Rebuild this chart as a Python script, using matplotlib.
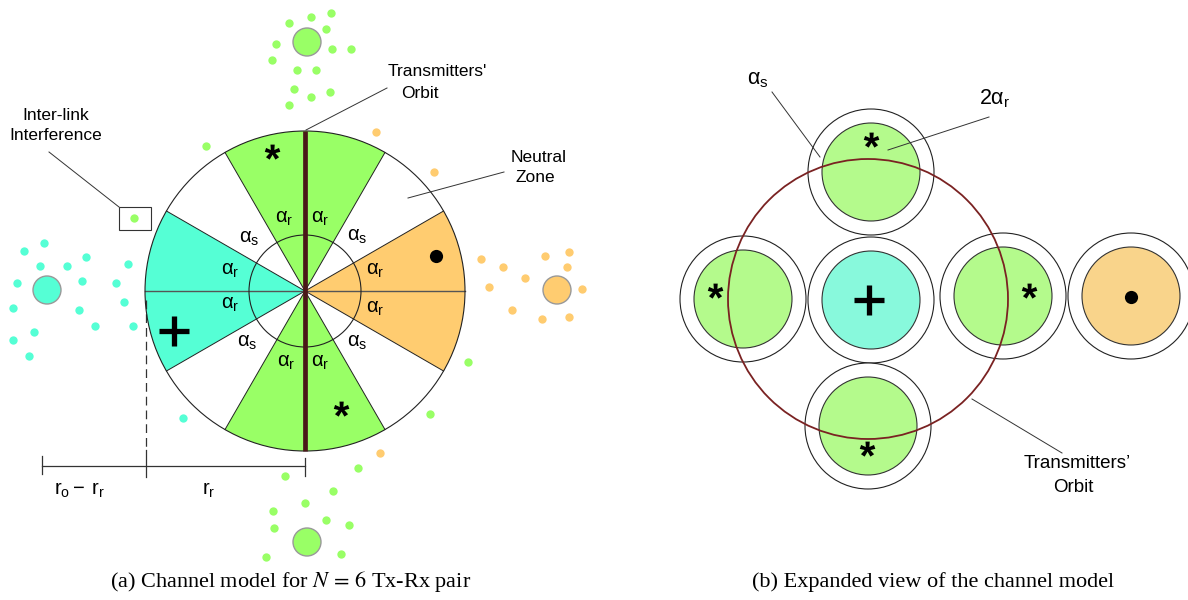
import numpy as np
import matplotlib
matplotlib.use("Agg")
import matplotlib.pyplot as plt
from matplotlib.patches import Wedge, Circle, Rectangle
from matplotlib.textpath import TextPath
from matplotlib.font_manager import FontProperties
from matplotlib.path import Path

plt.rcParams['mathtext.fontset'] = 'stix'

# ---- colores
GREEN = '#99ff66'
CYAN = '#55ffd5'
ORANGE = '#ffcc70'
GREEN2 = '#b4fa8c'
CYAN2 = '#88f9dc'
ORANGE2 = '#f9d48b'
BROWN = '#4a1818'
MAROON = '#7a2222'

# ---- (a) diagrama de sectores
centro_a = (305, 291)
radio_a = 160
radio_int = 56
# sectores: angulo inicial, angulo final (en pantalla, grados), color
sect_ini = [60, 150, 240, 330]
sect_fin = [120, 210, 300, 390]
sect_col = [GREEN, CYAN, GREEN, ORANGE]
bordes = [30, 60, 120, 150, 210, 240, 300, 330]

# nubes de puntos (x, y en pixeles)
verde_x = [331, 311, 289, 326, 276, 332, 351, 272, 297, 316, 294, 311, 330, 289,
           206, 468, 430,
           358, 285, 333, 305, 273, 326, 349, 274, 266, 341]
verde_y = [13, 17, 23, 29, 44, 49, 49, 60, 70, 70, 89, 97, 92, 105,
           146, 362, 414,
           468, 476, 491, 503, 511, 520, 525, 528, 557, 554]
cian_x = [44, 24, 86, 40, 67, 128, 17, 82, 116, 13, 79, 124, 34, 95, 133, 13, 29, 183]
cian_y = [243, 251, 257, 266, 266, 264, 283, 281, 283, 308, 310, 302, 332, 326, 326, 340, 356, 418]
naranja_x = [481, 503, 545, 569, 567, 525, 489, 582, 512, 542, 569, 376, 434, 380]
naranja_y = [259, 267, 256, 252, 267, 278, 287, 289, 310, 319, 317, 132, 172, 453]
grandes_x = [307, 47, 557, 307]
grandes_y = [42, 290, 290, 542]
grandes_col = [GREEN, CYAN, ORANGE, GREEN]

# etiquetas alfa
alfa_txt = ['r', 'r', 's', 's', 'r', 'r', 's', 'r', 'r', 's', 'r', 'r']
alfa_x = [284, 320, 249, 357, 230, 230, 247, 286, 320, 357, 375, 375]
alfa_y = [219, 219, 238, 236, 271, 305, 342, 362, 362, 342, 271, 308]

# ---- (b) vista expandida
circ_x = [871, 743, 871, 1003, 868, 1131]
circ_y = [172, 299, 300, 296, 426, 296]
circ_col = [GREEN2, GREEN2, CYAN2, GREEN2, GREEN2, ORANGE2]
ast_x = [272, 341, 871, 715, 1029, 867]
ast_y = [158, 415, 146, 297, 297, 455]
mas_x = [174, 869]
mas_y = [331, 300]
punto_x = [436, 1131]
punto_y = [256, 297]
orbita = (868, 299, 140)


def glifo(ch):
    tp = TextPath((0, 0), ch, size=1,
                  prop=FontProperties(family='Liberation Sans', weight='bold'))
    v = tp.vertices
    c = (v.min(0) + v.max(0)) / 2
    return Path(v - c, tp.codes)


fig = plt.figure(figsize=(11.88, 6), dpi=100)
ax = fig.add_axes([0, 0, 1, 1])
ax.set_xlim(0, 1188)
ax.set_ylim(600, 0)
ax.axis('off')

cx, cy = centro_a
# sectores coloreados (eje y invertido -> angulo negativo)
for a1, a2, col in zip(sect_ini, sect_fin, sect_col):
    ax.add_patch(Wedge((cx, cy), radio_a, -a2, -a1, facecolor=col, edgecolor='none', zorder=1))
for b in bordes:
    t = np.deg2rad(b)
    ax.plot([cx, cx + radio_a * np.cos(t)], [cy, cy - radio_a * np.sin(t)],
            color='#222222', lw=0.7, zorder=2)
ax.plot([cx - radio_a, cx + radio_a], [cy, cy], color='#555555', lw=1.0, zorder=2)
ax.add_patch(Circle((cx, cy), radio_a, fill=False, edgecolor='#222222', lw=0.8, zorder=3))
ax.add_patch(Circle((cx, cy), radio_int, fill=False, edgecolor='#222222', lw=0.8, zorder=3))
ax.plot([cx, cx], [cy - radio_a, cy + radio_a], color=BROWN, lw=3.4, zorder=4, solid_capstyle='butt')

for t, x, y in zip(alfa_txt, alfa_x, alfa_y):
    ax.text(x, y, r'$\mathregular{\alpha_%s}$' % t, family='Liberation Sans', fontsize=14.5,
            ha='center', va='center', zorder=5)

# puntos
ax.plot(verde_x, verde_y, 'o', ms=6, color=GREEN, mew=0, zorder=3)
ax.plot(cian_x, cian_y, 'o', ms=6, color=CYAN, mew=0, zorder=3)
ax.plot(naranja_x, naranja_y, 'o', ms=6, color=ORANGE, mew=0, zorder=3)
for x, y, col in zip(grandes_x, grandes_y, grandes_col):
    ax.add_patch(Circle((x, y), 14, facecolor=col, edgecolor='#999999', lw=1.0, zorder=3))

# caja de interferencia
ax.add_patch(Rectangle((119, 207), 32, 23, fill=False, edgecolor='#333333', lw=0.8, zorder=3))
ax.plot([134], [218], 'o', ms=6, color=GREEN, mew=0, zorder=3)

# lineas guia y textos
lineas = [((49, 152), (119, 207)), ((387, 88), (306, 130)), ((504, 172), (408, 198)),
          ((772, 92), (820, 157)), ((989, 117), (888, 150)), ((1062, 453), (972, 399))]
for p, q in lineas:
    ax.plot([p[0], q[0]], [p[1], q[1]], color='#333333', lw=0.7, zorder=6)

fs = 12.5
ax.text(56, 115, 'Inter-link', family='Liberation Sans', fontsize=fs, ha='center', va='center')
ax.text(56, 136, 'Interference', family='Liberation Sans', fontsize=fs, ha='center', va='center')
ax.text(437, 71, "Transmitters'", family='Liberation Sans', fontsize=fs, ha='center', va='center')
ax.text(420, 93, 'Orbit', family='Liberation Sans', fontsize=fs, ha='center', va='center')
ax.text(539, 157, 'Neutral', family='Liberation Sans', fontsize=fs, ha='center', va='center')
ax.text(535, 178, 'Zone', family='Liberation Sans', fontsize=fs, ha='center', va='center')

# cota r_o - r_r y r_r
ax.plot([146, 146], [300, 450], color='#333333', lw=0.9, ls=(0, (7, 4)))
ax.plot([42, 305], [466, 466], color='#333333', lw=0.9)
ax.plot([42, 42], [456, 474], color='#333333', lw=0.9)
ax.plot([146, 146], [450, 477], color='#333333', lw=0.9)
ax.plot([305, 305], [458, 476], color='#333333', lw=0.9)
ax.text(80, 490, r'$\mathregular{r_o-\ r_r}$', family='Liberation Sans', fontsize=14.5,
        ha='center', va='center')
ax.text(209, 490, r'$\mathregular{r_r}$', family='Liberation Sans', fontsize=14.5,
        ha='center', va='center')

# (b) circulos expandidos
for x, y, col in zip(circ_x, circ_y, circ_col):
    ax.add_patch(Circle((x, y), 63, facecolor='white', edgecolor='#222222', lw=0.8, zorder=2))
    ax.add_patch(Circle((x, y), 49, facecolor=col, edgecolor='#333333', lw=0.8, zorder=2))
ox, oy, orad = orbita
ax.add_patch(Circle((ox, oy), orad, fill=False, edgecolor=MAROON, lw=1.3, zorder=4))

ax.text(758, 80, r'$\mathregular{\alpha_s}$', family='Liberation Sans', fontsize=15.5,
        ha='center', va='center')
ax.text(995, 99, r'$\mathregular{2\alpha_r}$', family='Liberation Sans', fontsize=15.5,
        ha='center', va='center')
ax.text(1077, 463, "Transmitters\u2019", family='Liberation Sans', fontsize=13.5, ha='center', va='center')
ax.text(1073, 487, 'Orbit', family='Liberation Sans', fontsize=13.5, ha='center', va='center')

# simbolos
ax.plot(ast_x, ast_y, ls='none', marker=glifo('*'), ms=20, color='black', mew=0, zorder=7)
ax.plot(mas_x, mas_y, ls='none', marker='+', ms=21, mew=3.8, color='black', zorder=7)
ax.plot(punto_x, punto_y, ls='none', marker='o', ms=9.5, color='black', mew=0, zorder=7)

# pies de figura
ax.text(291, 582, r'(a) Channel model for $N\,=\,6$ Tx-Rx pair', family='Liberation Serif',
        fontsize=16, ha='center', va='center')
ax.text(933, 582, '(b) Expanded view of the channel model', family='Liberation Serif',
        fontsize=16, ha='center', va='center')

fig.savefig('out.png', dpi=100)
